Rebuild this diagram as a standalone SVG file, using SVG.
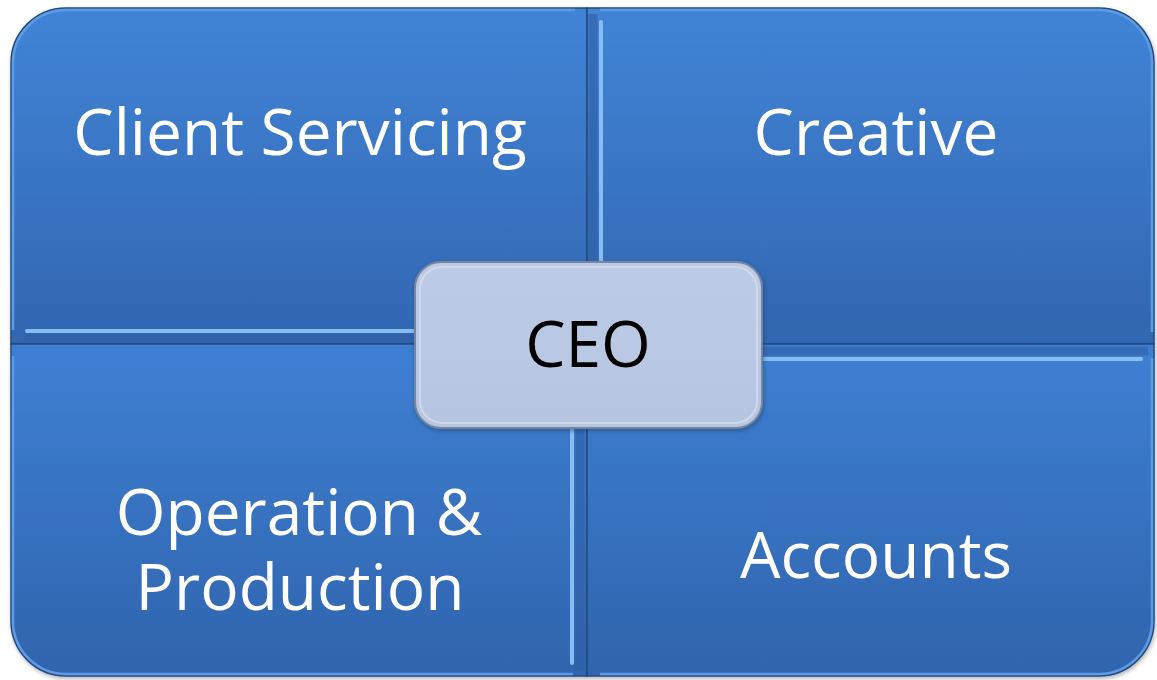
<svg xmlns="http://www.w3.org/2000/svg" width="1157" height="680" viewBox="0 0 1157 680">
  <defs>
    <linearGradient id="gTop" x1="0" y1="0" x2="0" y2="1">
      <stop offset="0" stop-color="#4084d6"/>
      <stop offset="1" stop-color="#3266b1"/>
    </linearGradient>
    <linearGradient id="gBot" x1="0" y1="0" x2="0" y2="1">
      <stop offset="0" stop-color="#3e80d3"/>
      <stop offset="1" stop-color="#3064ae"/>
    </linearGradient>
    <linearGradient id="gCeo" x1="0" y1="0" x2="0" y2="1">
      <stop offset="0" stop-color="#bccbe5"/>
      <stop offset="1" stop-color="#b6c6e1"/>
    </linearGradient>
    <filter id="sh" x="-10%" y="-10%" width="120%" height="130%">
      <feDropShadow dx="1" dy="2" stdDeviation="2" flood-color="#1c3558" flood-opacity="0.45"/>
    </filter>
    <filter id="sh2" x="-5%" y="-5%" width="110%" height="110%">
      <feDropShadow dx="1" dy="2" stdDeviation="2" flood-color="#000" flood-opacity="0.3"/>
    </filter>
  </defs>
  <style>
    .quad { stroke: #24497f; stroke-width: 1.5; }
    .hl { stroke: #88bdf4; stroke-width: 4; fill: none; stroke-linecap: round; }
    .rim { stroke: #5d9be4; stroke-width: 2.5; fill: none; }
    .dark { stroke: #2f5fa4; stroke-width: 9; fill: none; opacity: 0.6; }
    .lbl { font-family: "Open Sans", "Noto Sans", "Liberation Sans", sans-serif; font-size: 64px; fill: #ffffff; text-anchor: middle; }
    .ceo { font-family: "Open Sans", "Noto Sans", "Liberation Sans", sans-serif; font-size: 64px; fill: #000000; text-anchor: middle; }
  </style>
  <rect width="1157" height="680" fill="#ffffff"/>
  <g id="matrix" filter="url(#sh2)">
    <g id="client-servicing">
      <path class="quad" fill="url(#gTop)" d="M11,63 A55,55 0 0 1 66,8 L587,8 L587,344 L11,344 Z"/>
      <path class="rim" d="M13,330 L13,63 A53,53 0 0 1 66,10 L575,10"/>
      <path class="dark" d="M24,338 L582,338"/>
      <path class="hl" d="M27,331 L574,331"/>
      <text class="lbl" x="300" y="155">Client Servicing</text>
    </g>
    <g id="creative">
      <path class="quad" fill="url(#gTop)" d="M587,8 L1099,8 A55,55 0 0 1 1154,63 L1154,344 L587,344 Z"/>
      <path class="rim" d="M600,10 L1099,10 A53,53 0 0 1 1152,63 L1152,332"/>
      <path class="dark" d="M593,14 L593,339"/>
      <path class="hl" d="M601,22 L601,332"/>
      <text class="lbl" x="876" y="155">Creative</text>
    </g>
    <g id="operation-production">
      <path class="quad" fill="url(#gBot)" d="M11,344 L587,344 L587,676 L66,676 A55,55 0 0 1 11,621 Z"/>
      <path class="rim" d="M13,356 L13,621 A53,53 0 0 0 66,674 L573,674"/>
      <path class="dark" d="M580,350 L580,670"/>
      <path class="hl" d="M572,358 L572,663"/>
      <text class="lbl" x="299" y="535">Operation &amp;</text>
      <text class="lbl" x="300" y="610">Production</text>
    </g>
    <g id="accounts">
      <path class="quad" fill="url(#gBot)" d="M587,344 L1154,344 L1154,621 A55,55 0 0 1 1099,676 L587,676 Z"/>
      <path class="rim" d="M1152,358 L1152,621 A53,53 0 0 1 1099,674 L600,674"/>
      <path class="dark" d="M592,351 L1148,351"/>
      <path class="hl" d="M601,359 L1141,359"/>
      <text class="lbl" x="876" y="578">Accounts</text>
    </g>
  </g>
  <g id="ceo" filter="url(#sh)">
    <rect x="415" y="262" width="347" height="166" rx="26" ry="26" fill="url(#gCeo)" stroke="#76849c" stroke-width="2"/>
    <rect x="420" y="267" width="337" height="156" rx="22" ry="22" fill="none" stroke="#cdd9ee" stroke-width="2"/>
    <text class="ceo" x="588" y="367">CEO</text>
  </g>
  <g id="connectors"/>
</svg>
